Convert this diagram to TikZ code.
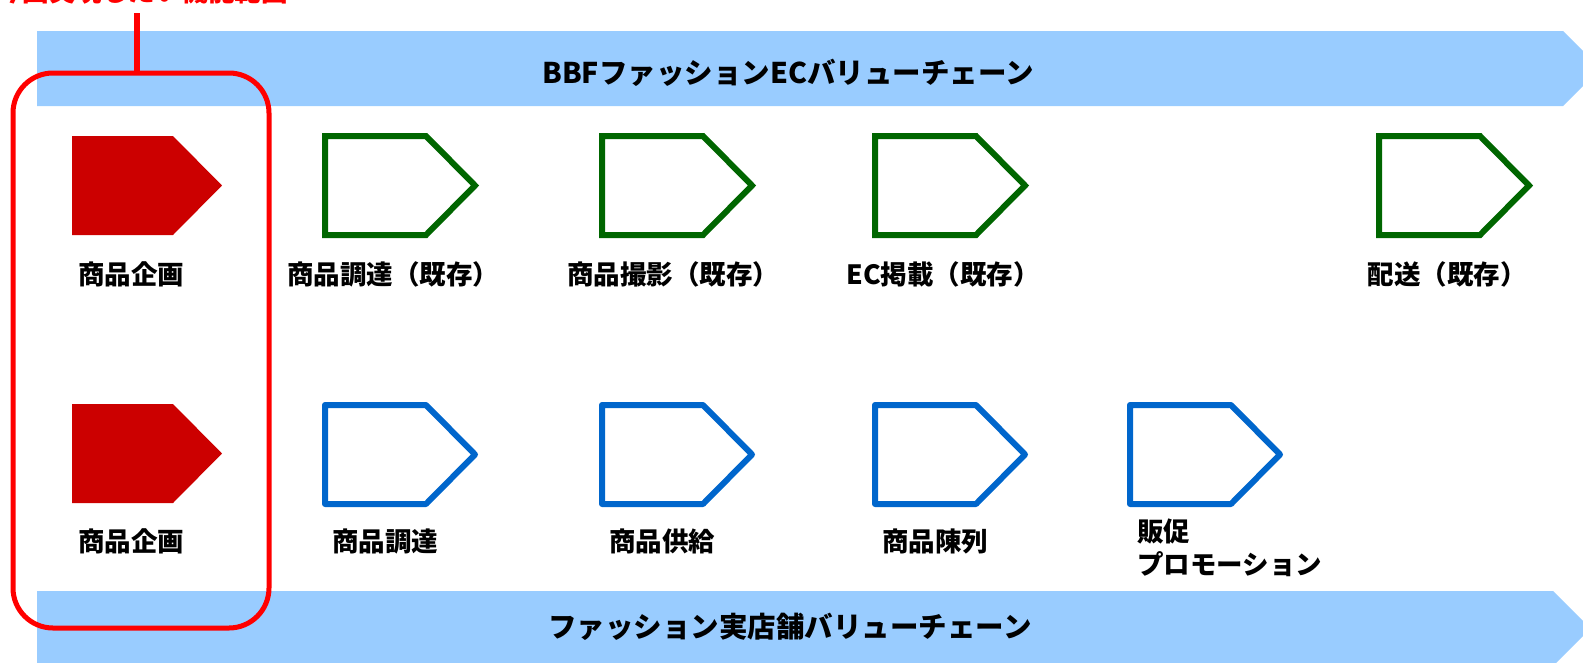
\documentclass[tikz,border=0pt]{standalone}
\usepackage{fontspec}
\setmainfont{Noto Sans CJK JP}
\definecolor{bandblue}{HTML}{99CCFF}
\definecolor{ecgreen}{HTML}{006600}
\definecolor{shopblue}{HTML}{0066CC}
\definecolor{planred}{HTML}{CC0000}
\definecolor{framered}{HTML}{FF0000}
\tikzset{
  chev/.pic={\path[pic actions] (0,0) -- (101,0) -- (150,49.5) -- (101,99) -- (0,99) -- cycle;},
  greenbox/.style={draw=ecgreen, line width=6pt, line join=miter},
  bluebox/.style={draw=shopblue, line width=6pt, line join=round},
  redbox/.style={fill=planred},
  lbl/.style={font=\bfseries\fontsize{26.5}{30}\selectfont, inner sep=0pt},
  bandtxt/.style={font=\bfseries\fontsize{28.5}{32}\selectfont, inner sep=0pt},
}
\begin{document}
\begin{tikzpicture}[x=1pt,y=-1pt]
\useasboundingbox (0,0) rectangle (1583,662);
% bands
\fill[bandblue] (37,31) -- (1563,31) -- (1600.5,68.5) -- (1563,106) -- (37,106) -- cycle;
\fill[bandblue] (37,591) -- (1553,591) -- (1590.5,628.5) -- (1553,666) -- (37,666) -- cycle;
\node[bandtxt] (topband) at (788,73) {BBFファッションECバリューチェーン};
\node[bandtxt] (botband) at (790,627) {ファッション実店舗バリューチェーン};
% red frame and its callout
\draw[framered, line width=5pt, rounded corners=40pt] (13,73) rectangle (269,628);
\coordinate (framecall) at (137,73);
\node[lbl, text=framered, anchor=base west] (calltxt) at (-4,1) {今回実現したい機能範囲};
\coordinate (callend) at (137,13);
\draw[framered, line width=6pt] (callend) -- (framecall);
% top row
\pic[redbox] (r1) at (72,136) {chev};
\pic[greenbox] (g1) at (325,136) {chev};
\pic[greenbox] (g2) at (602,136) {chev};
\pic[greenbox] (g3) at (875,136) {chev};
\pic[greenbox] (g4) at (1379,136) {chev};
\node[lbl] (l1) at (131,274) {商品企画};
\node[lbl] (l2) at (393,274) {商品調達（既存）};
\node[lbl] (l3) at (673,274) {商品撮影（既存）};
\node[lbl] (l4) at (943,274) {EC掲載（既存）};
\node[lbl] (l5) at (1447,274) {配送（既存）};
% bottom row
\pic[redbox] (r2) at (72,404) {chev};
\pic[bluebox] (b1) at (325,405) {chev};
\pic[bluebox] (b2) at (602,405) {chev};
\pic[bluebox] (b3) at (875,405) {chev};
\pic[bluebox] (b4) at (1130,405) {chev};
\node[lbl] (m1) at (131,541) {商品企画};
\node[lbl] (m2) at (385,541) {商品調達};
\node[lbl] (m3) at (662,541) {商品供給};
\node[lbl] (m4) at (935,541) {商品陳列};
\node[lbl, anchor=west] (m5a) at (1137,531) {販促};
\node[lbl, anchor=west] (m5b) at (1137,564) {プロモーション};
\end{tikzpicture}
\end{document}
